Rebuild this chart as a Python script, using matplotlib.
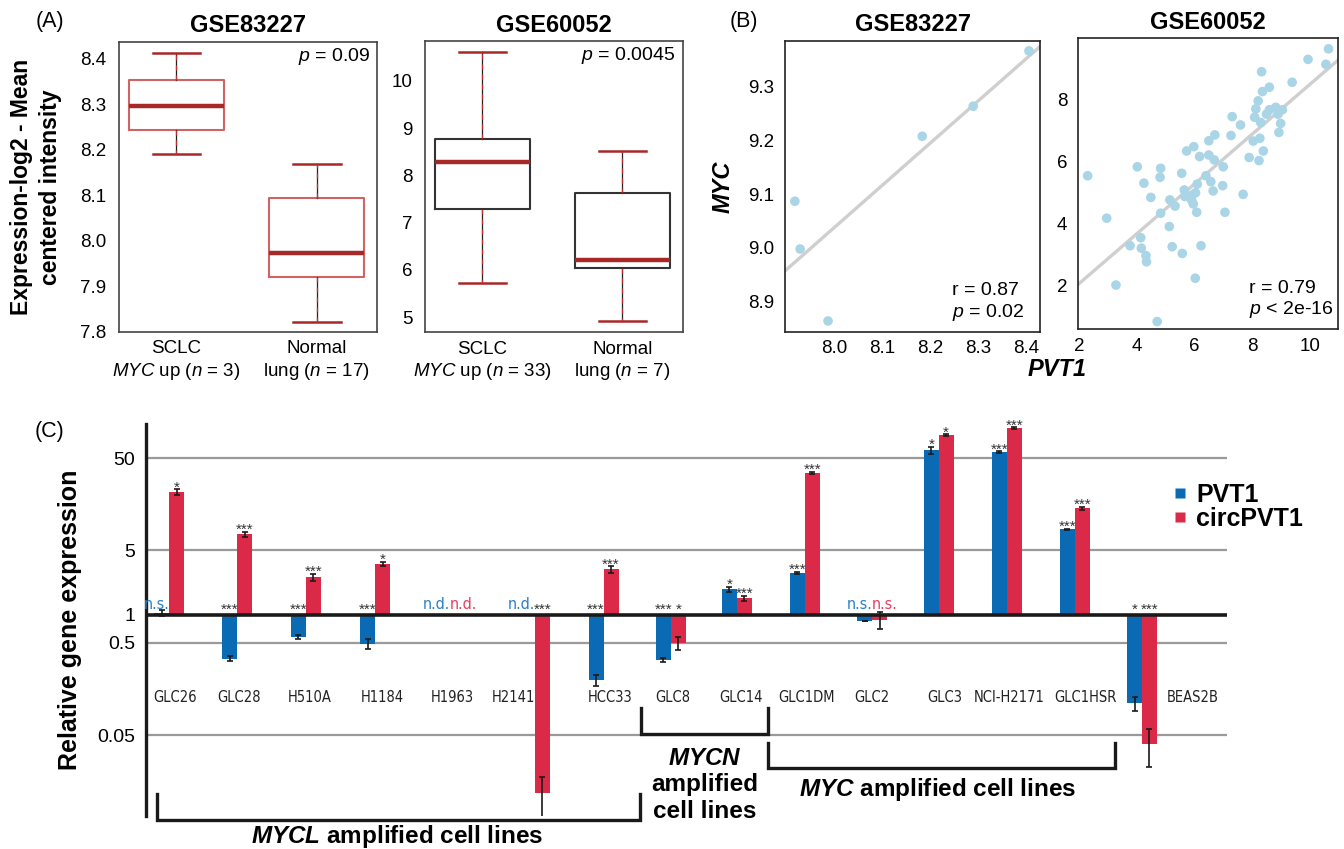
import numpy as np
import matplotlib
matplotlib.use('Agg')
import matplotlib.pyplot as plt
from matplotlib import font_manager
from matplotlib.font_manager import FontProperties
from matplotlib.lines import Line2D

# ---------------- (A) box plot summaries: low whisker, Q1, median, Q3, high whisker
gse83227_sclc = [8.19, 8.243, 8.295, 8.354, 8.412]
gse83227_normal = [7.822, 7.92, 7.974, 8.094, 8.168]
gse60052_sclc = [5.72, 7.29, 8.28, 8.77, 10.62]
gse60052_normal = [4.91, 6.03, 6.21, 7.62, 8.52]
box_labels_83227 = ['SCLC\n$\\it{MYC}$ up ($\\it{n}$ = 3)', 'Normal\nlung ($\\it{n}$ = 17)']
box_labels_60052 = ['SCLC\n$\\it{MYC}$ up ($\\it{n}$ = 33)', 'Normal\nlung ($\\it{n}$ = 7)']

# ---------------- (B) PVT1 vs MYC
pvt1_83227 = [7.918, 7.929, 7.987, 8.183, 8.289, 8.405]
myc_83227 = [9.087, 8.998, 8.864, 9.208, 9.264, 9.367]

pvt1_60052 = [2.29, 2.95, 3.27, 3.76, 4.01, 4.13, 4.15, 4.24, 4.31, 4.33,
              4.48, 4.70, 4.80, 4.82, 4.82, 5.12, 5.14, 5.22, 5.32, 5.55,
              5.57, 5.64, 5.66, 5.72, 5.89, 5.92, 5.95, 5.97, 6.03, 6.07,
              6.09, 6.17, 6.22, 6.02, 6.39, 6.49, 6.49, 6.56, 6.64, 6.70,
              6.68, 6.97, 6.99, 7.05, 7.26, 7.30, 7.59, 7.68, 7.89, 8.03,
              8.08, 8.12, 8.20, 8.26, 8.29, 8.32, 8.35, 8.38, 8.23, 8.49,
              8.59, 8.59, 8.81, 8.89, 8.98, 8.92, 9.04, 9.38, 9.93, 10.55,
              10.64]
myc_60052 = [5.53, 4.16, 2.00, 3.27, 5.82, 3.53, 3.19, 5.29, 2.95, 2.75,
             4.83, 0.82, 5.48, 5.77, 4.32, 3.89, 4.75, 3.24, 4.55, 5.61,
             3.02, 5.07, 4.86, 6.33, 4.75, 4.91, 4.62, 6.47, 4.98, 4.35,
             5.26, 6.15, 3.27, 2.22, 5.53, 6.66, 6.20, 5.34, 5.04, 6.85,
             6.04, 5.21, 5.82, 4.35, 6.83, 7.44, 7.17, 4.93, 6.12, 6.65,
             7.42, 7.69, 7.95, 6.74, 7.25, 8.89, 8.25, 6.33, 6.02, 7.52,
             8.39, 7.66, 7.74, 7.52, 7.22, 6.93, 7.66, 8.55, 9.29, 9.13,
             9.63]

# ---------------- (C) relative expression (nan = not detected)
cell_lines = ['GLC26', 'GLC28', 'H510A', 'H1184', 'H1963', 'H2141', 'HCC33', 'GLC8',
              'GLC14', 'GLC1DM', 'GLC2', 'GLC3', 'NCI-H2171', 'GLC1HSR', 'BEAS2B']
pvt1_expr = [1.06, 0.337, 0.582, 0.489, np.nan, np.nan, 0.199, 0.328,
             1.90, 2.85, 0.868, 61.0, 58.0, 8.5, 0.110]
pvt1_err = [0.08, 0.022, 0.03, 0.065, 0, 0, 0.027, 0.017,
            0.12, 0.07, 0.0, 5.5, 1.5, 0.1, 0.018]
circ_expr = [21.5, 7.5, 2.58, 3.57, np.nan, 0.0119, 3.12, 0.50,
             1.52, 34.5, 0.89, 89.0, 106.0, 14.3, 0.0404]
circ_err = [1.4, 0.5, 0.23, 0.18, 0, 0.0058, 0.25, 0.08,
            0.1, 1.0, 0.18, 1.5, 2.0, 0.6, 0.018]
pvt1_sig = ['n.s.', '***', '***', '***', 'n.d.', 'n.d.', '***', '***',
            '*', '***', 'n.s.', '*', '***', '***', '*']
circ_sig = ['*', '***', '***', '*', 'n.d.', '***', '***', '*',
            '***', '***', 'n.s.', '*', '***', '***', '***']

# layout of the groups along x (the original spacing is not regular)
group_x = [0, 1.0, 2.01, 3.03, 4.13, 5.38, 6.39, 7.38, 8.35, 9.35, 10.34, 11.32, 12.32, 13.32, 14.31]
label_shift = [0.09, 0.03, 0.06, 0.1, 0.04, -0.32, 0.09, 0.03, 0.06, 0.03, 0.0, 0.09, 0.03, 0.16, 0.75]

BLUE = '#0a6ab4'
RED = '#da2a48'
BLUE_TXT = '#2a80c8'
RED_TXT = '#e0405c'
DARKRED = '#a82828'
DOT = '#a9d5e6'

# look for a condensed sans face for the cell line labels
narrow_file = None
for f in font_manager.fontManager.ttflist:
    nm = f.name
    if 'Mono' in nm or 'Serif' in nm:
        continue
    if f.style != 'normal' or f.weight not in (400, 'normal', 'regular', 'book'):
        continue
    if 'Narrow' in nm or 'Condensed' in nm or f.stretch in ('condensed', 'semi-condensed'):
        narrow_file = f.fname
        break


def narrow(size):
    if narrow_file:
        return FontProperties(fname=narrow_file, size=size)
    return FontProperties(family='Liberation Sans', size=size * 0.95)


plt.rcParams['font.family'] = ['Liberation Sans', 'DejaVu Sans']
plt.rcParams['mathtext.fontset'] = 'custom'
plt.rcParams['mathtext.rm'] = 'Liberation Sans'
plt.rcParams['mathtext.it'] = 'Liberation Sans:italic'
plt.rcParams['mathtext.bf'] = 'Liberation Sans:bold'
plt.rcParams['mathtext.bfit'] = 'Liberation Sans:bold:italic'

W, H = 1344, 849
fig = plt.figure(figsize=(W / 100, H / 100), dpi=100)


def box(l, t, r, b):
    return [l / W, 1 - b / H, (r - l) / W, (b - t) / H]


def frame(ax, color='#444444', lw=1.2):
    for s in ax.spines.values():
        s.set_color(color)
        s.set_linewidth(lw)
    ax.tick_params(length=0, labelsize=13.5)


# ---------- panel A
def boxpanel(rect, sclc, normal, labels, title, ptxt, ylim, yticks, fmt, boxcol, px):
    ax = fig.add_axes(rect)
    stats = []
    for d in (sclc, normal):
        stats.append(dict(whislo=d[0], q1=d[1], med=d[2], q3=d[3], whishi=d[4], fliers=[]))
    parts = ax.bxp(stats, positions=[1, 2], widths=0.68, capwidths=0.34, showfliers=False,
                   boxprops=dict(color=boxcol, lw=1.5),
                   medianprops=dict(color=DARKRED, lw=3.2, solid_capstyle='butt'),
                   whiskerprops=dict(color='#222222', lw=0.9),
                   capprops=dict(color=DARKRED, lw=1.8))
    for w in parts['whiskers']:
        x, y = w.get_data()
        ax.plot(x, y, color='#c03030', lw=0.9, ls=(0, (4, 4)))
    ax.set_xlim(0.59, 2.43)
    ax.set_ylim(*ylim)
    ax.set_yticks(yticks)
    ax.set_yticklabels([fmt % v for v in yticks])
    ax.set_xticks([1, 2])
    ax.set_xticklabels(labels, fontsize=15)
    for lbl in ax.get_xticklabels():
        lbl.set_linespacing(1.25)
    frame(ax)
    ax.tick_params(axis='y', pad=9)
    ax.tick_params(axis='x', pad=6)
    ax.set_title(title, fontsize=17, fontweight='bold', pad=7)
    ax.text(px, 0.95, ptxt, transform=ax.transAxes, ha='right', va='center', fontsize=14)
    return ax


boxpanel(box(119, 41.7, 377, 332), gse83227_sclc, gse83227_normal, box_labels_83227,
         'GSE83227', r'$\it{p}$ = 0.09', (7.8, 8.437), [7.8, 7.9, 8.0, 8.1, 8.2, 8.3, 8.4],
         '%.1f', '#d06464', 0.976)
boxpanel(box(425, 41.3, 682.7, 332.3), gse60052_sclc, gse60052_normal, box_labels_60052,
         'GSE60052', r'$\it{p}$ = 0.0045', (4.676, 10.84), [5, 6, 7, 8, 9, 10],
         '%d', '#333333', 0.970)

fig.text(36 / W, 1 - 187 / H, 'Expression-log2 - Mean\ncentered intensity', rotation=90,
         ha='center', va='center', fontsize=16.5, fontweight='bold', multialignment='center',
         linespacing=1.28)
fig.text(50 / W, 1 - 22 / H, '(A)', ha='center', va='center', fontsize=15.5)
fig.text(744 / W, 1 - 22 / H, '(B)', ha='center', va='center', fontsize=15.5)
fig.text(50 / W, 1 - 432 / H, '(C)', ha='center', va='center', fontsize=15.5)


# ---------- panel B
def scatpanel(rect, xs, ys, title, rtxt, xlim, ylim, xticks, yticks, fmt):
    ax = fig.add_axes(rect)
    xs = np.array(xs)
    ys = np.array(ys)
    k, b0 = np.polyfit(xs, ys, 1)
    xl = np.array(xlim)
    ax.plot(xl, k * xl + b0, color='#cfcfcf', lw=2.4, zorder=1)
    ax.scatter(xs, ys, s=48, color=DOT, edgecolors='none', zorder=2)
    ax.set_xlim(*xlim)
    ax.set_ylim(*ylim)
    ax.set_xticks(xticks)
    ax.set_xticklabels([fmt % v for v in xticks])
    ax.set_yticks(yticks)
    ax.set_yticklabels([fmt % v for v in yticks])
    frame(ax, color='#222222', lw=1.2)
    ax.tick_params(axis='y', pad=8)
    ax.tick_params(axis='x', pad=6)
    ax.set_title(title, fontsize=17, fontweight='bold', pad=7)
    ax.text(0.655, 0.10, rtxt, transform=ax.transAxes, ha='left', va='center', fontsize=14,
            linespacing=1.15)
    return ax


scatpanel(box(785, 40.7, 1040, 331.7), pvt1_83227, myc_83227, 'GSE83227',
          'r = 0.87\n$\\it{p}$ = 0.02', (7.8975, 8.428), (8.844, 9.386),
          [8.0, 8.1, 8.2, 8.3, 8.4], [8.9, 9.0, 9.1, 9.2, 9.3], '%.1f')
scatpanel(box(1078.3, 38.3, 1338.3, 329.3), pvt1_60052, myc_60052, 'GSE60052',
          'r = 0.79\n$\\it{p}$ < 2e-16', (1.965, 10.98), (0.57, 9.97),
          [2, 4, 6, 8, 10], [2, 4, 6, 8], '%d')
fig.text(723 / W, 1 - 187 / H, 'MYC', rotation=90, ha='center', va='center', fontsize=17,
         fontweight='bold', fontstyle='italic')
fig.text(1057 / W, 1 - 370 / H, 'PVT1', ha='center', va='center', fontsize=17,
         fontweight='bold', fontstyle='italic')

# ---------- panel C
axc = fig.add_axes(box(146, 424, 1227, 816))
axc.set_yscale('log')
axc.set_ylim(0.00664, 117)
axc.set_xlim(-0.34, 15.56)
for s in ['top', 'right', 'bottom']:
    axc.spines[s].set_visible(False)
axc.spines['left'].set_linewidth(2.4)
axc.spines['left'].set_color('#1a1a1a')
yt = [0.05, 0.5, 1, 5, 50]
axc.set_yticks(yt)
axc.set_yticklabels(['0.05', '0.5', '1', '5', '50'])
axc.yaxis.set_minor_locator(matplotlib.ticker.NullLocator())
axc.tick_params(axis='y', length=0, pad=8, labelsize=14)
axc.set_xticks([])
for t in [0.05, 0.5, 5, 50]:
    axc.axhline(t, color='#9a9a9a', lw=1.6, zorder=0)
axc.axhline(1, color='#1a1a1a', lw=2.6, zorder=4)
axc.set_ylabel('Relative gene expression', fontsize=18, fontweight='bold')
axc.yaxis.set_label_coords(-(146 - 82) / (1227 - 146), 0.5)

bw = 0.22
gx = np.array(group_x)
for vals, errs, sig, off, col, tcol in [
        (pvt1_expr, pvt1_err, pvt1_sig, -0.5, BLUE, BLUE_TXT),
        (circ_expr, circ_err, circ_sig, 0.5, RED, RED_TXT)]:
    vals = np.array(vals, dtype=float)
    errs = np.array(errs, dtype=float)
    ok = ~np.isnan(vals)
    xc = gx + off * bw
    axc.bar(xc[ok], vals[ok] - 1, bottom=1, width=bw, color=col, zorder=2, linewidth=0)
    axc.errorbar(xc[ok], vals[ok], yerr=errs[ok], fmt='none', ecolor='#1a1a1a',
                 elinewidth=1.2, capsize=2, capthick=1.2, zorder=3)
    for i, s in enumerate(sig):
        if s in ('n.s.', 'n.d.'):
            axc.annotate(s, (gx[i], 1), xytext=(0, 2), textcoords='offset points',
                         ha='right' if off < 0 else 'left', va='bottom', color=tcol,
                         fontproperties=narrow(11.5))
        else:
            v = vals[i]
            if v > 1:
                axc.annotate(s, (xc[i], v + errs[i]), xytext=(0, -1.6), textcoords='offset points',
                             ha='center', va='baseline', fontsize=11, color='#333333')
            else:
                axc.annotate(s, (xc[i], 1), xytext=(0, 0.8), textcoords='offset points',
                             ha='center', va='baseline', fontsize=11, color='#333333')

for i, name in enumerate(cell_lines):
    axc.text(gx[i] + label_shift[i], 0.129, name, ha='center', va='center',
             fontproperties=narrow(10.5), color='#222222')

# brackets for amplification groups
bk = dict(color='#1a1a1a', lw=2.4, clip_on=False, solid_joinstyle='miter', zorder=5)
axc.plot([-0.18, -0.18, 6.93, 6.93], [0.0115, 0.006, 0.006, 0.0115], **bk)
axc.plot([6.94, 6.94, 8.81, 8.81], [0.0983, 0.051, 0.051, 0.0983], **bk)
axc.plot([8.81, 8.81, 13.91, 13.91], [0.041, 0.0218, 0.0218, 0.041], **bk)
axc.text(3.35, 0.00403, r'$\mathbfit{MYCL}$ amplified cell lines', ha='center', va='center',
         fontsize=17.5, fontweight='bold', clip_on=False)
axc.text(7.88, 0.0144, '$\\mathbfit{MYCN}$\namplified\ncell lines', ha='center', va='center',
         fontsize=17.5, fontweight='bold', linespacing=1.2, clip_on=False)
axc.text(11.3, 0.0127, r'$\mathbfit{MYC}$ amplified cell lines', ha='center', va='center',
         fontsize=17.5, fontweight='bold', clip_on=False)

handles = [Line2D([], [], ls='none', marker='s', ms=7, mfc=BLUE, mec='none'),
           Line2D([], [], ls='none', marker='s', ms=7, mfc=RED, mec='none')]
fig.legend(handles, ['PVT1', 'circPVT1'], loc='upper left', bbox_to_anchor=(1161 / W, 1 - 470 / H),
           frameon=False, handlelength=0.55, handletextpad=0.35, labelspacing=0.0, borderpad=0,
           prop=dict(weight='bold', size=18))

fig.savefig('out.png', dpi=100)
